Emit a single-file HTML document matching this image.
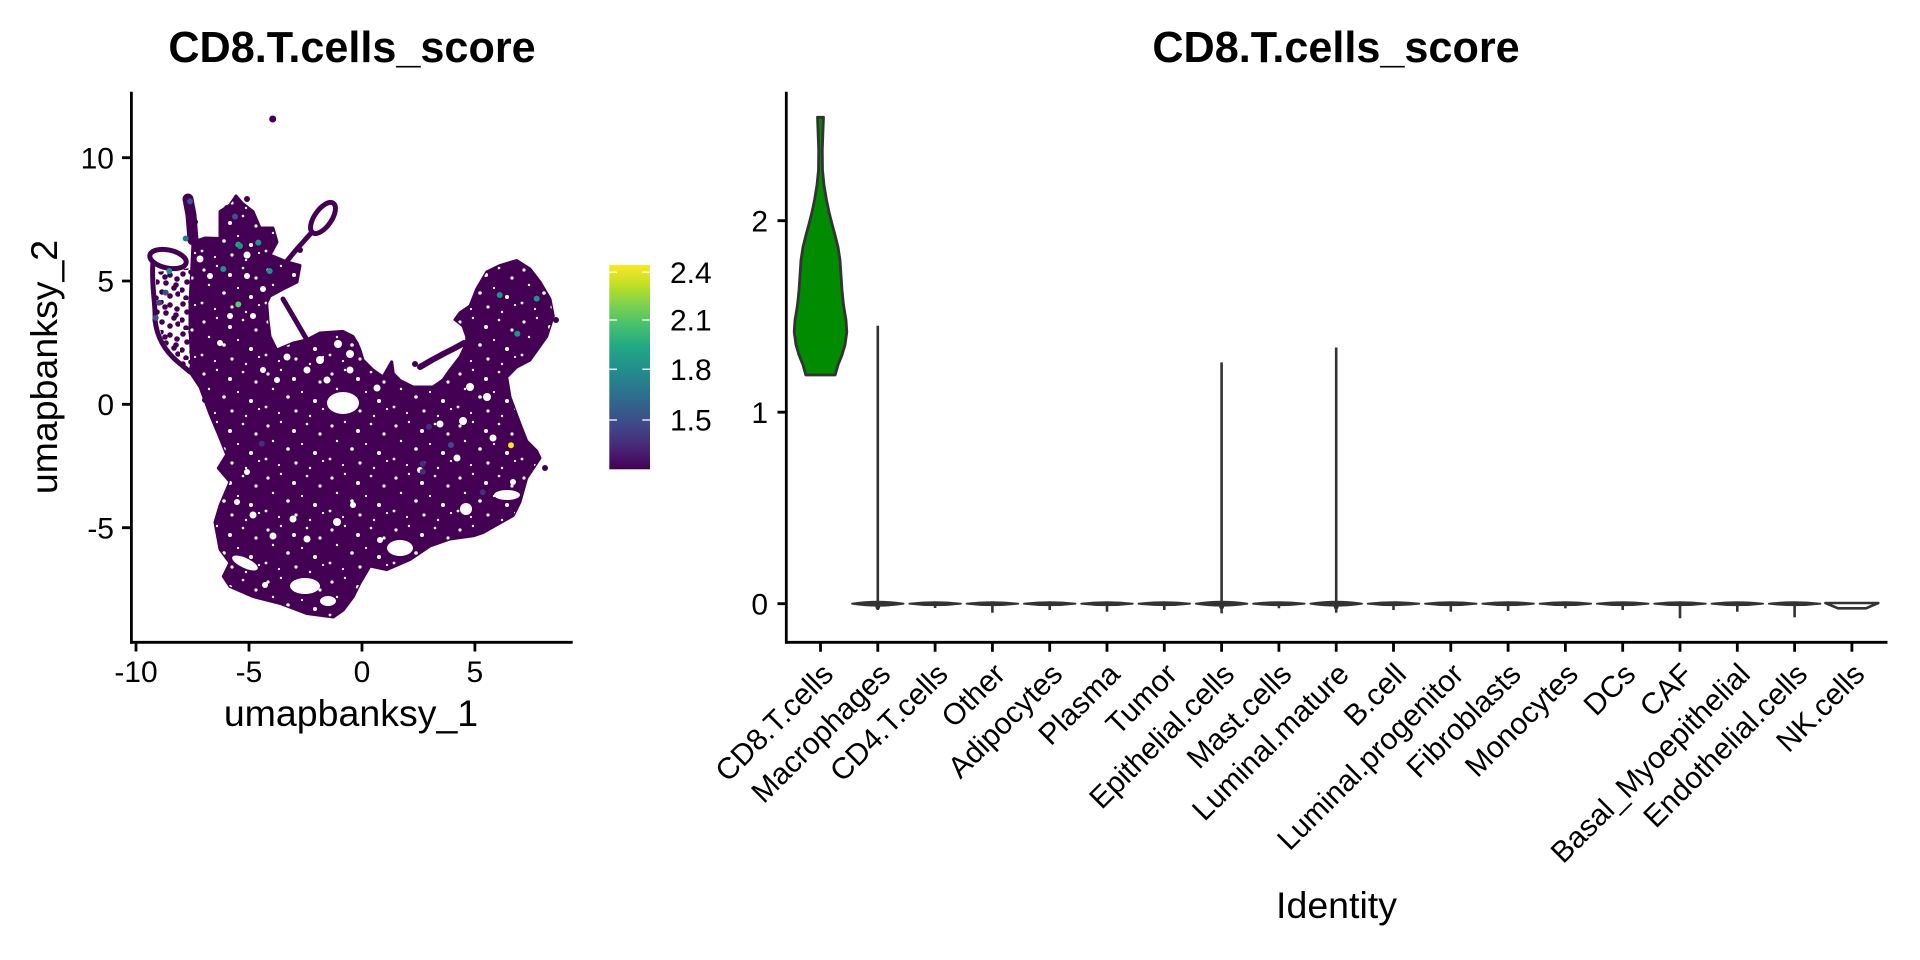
<!DOCTYPE html>
<html>
<head>
<meta charset="utf-8">
<style>
html,body{margin:0;padding:0;background:#fff;}
svg{display:block;}
text{font-family:"Liberation Sans",Arial,Helvetica,sans-serif;fill:#000;}
</style>
</head>
<body>
<svg width="1920" height="960" viewBox="0 0 1920 960" xmlns="http://www.w3.org/2000/svg">
<defs>
<linearGradient id="vir" x1="0" y1="1" x2="0" y2="0">
<stop offset="0" stop-color="#440154"/>
<stop offset="0.1" stop-color="#482475"/>
<stop offset="0.2" stop-color="#414487"/>
<stop offset="0.3" stop-color="#355f8d"/>
<stop offset="0.4" stop-color="#2a788e"/>
<stop offset="0.5" stop-color="#21918c"/>
<stop offset="0.6" stop-color="#22a884"/>
<stop offset="0.7" stop-color="#44bf70"/>
<stop offset="0.8" stop-color="#7ad151"/>
<stop offset="0.9" stop-color="#bddf26"/>
<stop offset="1" stop-color="#fde725"/>
</linearGradient>
<pattern id="speck" x="7" y="3" width="64" height="52" patternUnits="userSpaceOnUse">
<g fill="#fff">
<circle cx="5" cy="7" r="1.6"/><circle cx="18" cy="3" r="1.2"/><circle cx="31" cy="12" r="2"/>
<circle cx="44" cy="5" r="1.3"/><circle cx="57" cy="15" r="1.6"/><circle cx="10" cy="22" r="1.2"/>
<circle cx="25" cy="30" r="1.8"/><circle cx="39" cy="25" r="1.1"/><circle cx="52" cy="34" r="2"/>
<circle cx="3" cy="40" r="1.4"/><circle cx="16" cy="46" r="1.1"/><circle cx="33" cy="44" r="1.6"/>
<circle cx="47" cy="49" r="1.2"/><circle cx="60" cy="42" r="1.1"/>
</g>
</pattern>
<pattern id="sparse" x="0" y="0" width="30" height="30" patternUnits="userSpaceOnUse">
<g fill="#440154">
<circle cx="3" cy="4" r="2.8"/><circle cx="11" cy="2" r="2.8"/><circle cx="20" cy="5" r="2.8"/>
<circle cx="27" cy="9" r="2.8"/><circle cx="7" cy="12" r="2.8"/><circle cx="16" cy="13" r="2.8"/>
<circle cx="24" cy="18" r="2.8"/><circle cx="2" cy="20" r="2.8"/><circle cx="12" cy="22" r="2.8"/>
<circle cx="20" cy="26" r="2.8"/><circle cx="28" cy="24" r="2.8"/><circle cx="6" cy="28" r="2.8"/>
<circle cx="15" cy="7" r="2.8"/><circle cx="26" cy="15" r="2.8"/>
</g>
</pattern>
</defs>

<!-- ============ LEFT PANEL (UMAP) ============ -->
<text x="352" y="62" font-size="43.2" font-weight="bold" text-anchor="middle">CD8.T.cells_score</text>

<!-- sparse left zone -->
<path fill="url(#sparse)" d="M156,272 L191,268 L192,372 L178,362 L163,340 L156,315 Z"/>

<!-- point cloud -->
<path fill="#440154" stroke="#440154" stroke-width="3" stroke-linejoin="round" d="M193,242 L205,238 L220,238.5 L220,211.5 L230,205 L236,196 L242,203 L253,211.5 L260,228 L273,228 L277,242 L270,255 L287,262 L300,265.5 L297,282 L283,289 L270,296 L266.7,303 L268,320 L270,336.5 L276.7,350 L293.3,343 L306.7,340 L320,333 L343,331.4 L353,336.5 L357,343 L360,350 L363,360 L373,370 L383,377 L387,370 L391.7,361.8 L393.3,373.6 L400,380.4 L413,387 L433,387 L443,380 L450,370 L460,357 L466.7,343 L466.7,336.5 L463,326 L455,319.6 L460,312.8 L470,306 L476.7,289 L486.7,272 L500,265.5 L516.7,260.5 L530,269 L540,282 L550,299 L553.3,316 L546.7,336.5 L530,360 L516.7,367 L506.7,377 L510,397 L520,424 L526.7,441 L536.7,451 L540,458 L526.7,478 L520,502 L513.3,515.5 L483.3,532.4 L473.3,535.8 L450,539 L430,546 L410,559.5 L386.7,569.6 L370,566 L360,583 L353.3,596.6 L343.3,610 L333.3,617 L306.7,613.5 L280,603.4 L253.3,596.6 L230,586.5 L223.3,576.4 L230,562.8 L220,549.3 L215,522.3 L220,505.4 L230,481.8 L218.3,468.2 L226.7,454.7 L220,437.8 L210,414 L200,387 L190,372 L191.7,363.5 L190,330 L190,302.7 L191.7,270 Z"/>
<path fill="url(#speck)" d="M193,242 L205,238 L220,238.5 L220,211.5 L230,205 L236,196 L242,203 L253,211.5 L260,228 L273,228 L277,242 L270,255 L287,262 L300,265.5 L297,282 L283,289 L270,296 L266.7,303 L268,320 L270,336.5 L276.7,350 L293.3,343 L306.7,340 L320,333 L343,331.4 L353,336.5 L357,343 L360,350 L363,360 L373,370 L383,377 L387,370 L391.7,361.8 L393.3,373.6 L400,380.4 L413,387 L433,387 L443,380 L450,370 L460,357 L466.7,343 L466.7,336.5 L463,326 L455,319.6 L460,312.8 L470,306 L476.7,289 L486.7,272 L500,265.5 L516.7,260.5 L530,269 L540,282 L550,299 L553.3,316 L546.7,336.5 L530,360 L516.7,367 L506.7,377 L510,397 L520,424 L526.7,441 L536.7,451 L540,458 L526.7,478 L520,502 L513.3,515.5 L483.3,532.4 L473.3,535.8 L450,539 L430,546 L410,559.5 L386.7,569.6 L370,566 L360,583 L353.3,596.6 L343.3,610 L333.3,617 L306.7,613.5 L280,603.4 L253.3,596.6 L230,586.5 L223.3,576.4 L230,562.8 L220,549.3 L215,522.3 L220,505.4 L230,481.8 L218.3,468.2 L226.7,454.7 L220,437.8 L210,414 L200,387 L190,372 L191.7,363.5 L190,330 L190,302.7 L191.7,270 Z"/>

<g fill="none" stroke="#440154" stroke-linecap="round" stroke-linejoin="round">
<path stroke-width="11" d="M188,199 L191,215 L193,240"/>
<ellipse cx="168" cy="259" rx="18.5" ry="9" transform="rotate(12 168 259)" stroke-width="5"/>
<path stroke-width="5" d="M153,262 C151,285 156,305 155,320 C157,338 166,352 178,362 L190,372"/>
<path stroke-width="5" d="M287,261 L296,250 L304,241 L312,232"/>
<ellipse cx="323" cy="218" rx="18" ry="8.5" transform="rotate(-55 323 218)" stroke-width="5"/>
<path stroke-width="5" d="M283,299 L293,316 L300,328 L307,340"/>
<path stroke-width="6" d="M420,367 L432,360 L445,353 L455,348 L464,343"/>
</g>
<g fill="#440154">
<circle cx="272.7" cy="119" r="3.5"/>
<circle cx="195" cy="222" r="3"/><circle cx="247" cy="199" r="3"/><circle cx="227" cy="208" r="3"/>
<circle cx="300" cy="250" r="3"/><circle cx="415" cy="364" r="3"/><circle cx="212" cy="392" r="3"/>
<circle cx="545" cy="468" r="3"/><circle cx="205" cy="400" r="3"/><circle cx="556" cy="320" r="3"/>
</g>
<!-- holes -->
<g fill="#ffffff">
<ellipse cx="343" cy="403" rx="16" ry="11"/>
<ellipse cx="400" cy="548" rx="13" ry="8"/>
<ellipse cx="507" cy="495" rx="13" ry="5"/>
<circle cx="466" cy="509" r="6"/>
<ellipse cx="305" cy="586" rx="15" ry="8"/>
<ellipse cx="328" cy="601" rx="8" ry="5"/>
<ellipse cx="245" cy="563" rx="14" ry="5" transform="rotate(25 245 563)"/>
<circle cx="338" cy="344" r="4"/><circle cx="350" cy="354" r="4"/><circle cx="320" cy="360" r="4"/>
<circle cx="350" cy="370" r="3.5"/><circle cx="327" cy="380" r="3.5"/><circle cx="307" cy="370" r="3.5"/>
<circle cx="287" cy="357" r="3.5"/><circle cx="263" cy="370" r="3"/><circle cx="277" cy="380" r="3"/>
<circle cx="470" cy="387" r="4"/><circle cx="487" cy="397" r="4"/><circle cx="463" cy="421" r="4"/>
<circle cx="493" cy="438" r="3.5"/><circle cx="440" cy="424" r="3.5"/><circle cx="457" cy="458" r="3.5"/>
<circle cx="513" cy="482" r="3"/><circle cx="253" cy="515" r="3.5"/><circle cx="293" cy="519" r="3.5"/>
<circle cx="337" cy="522" r="4"/><circle cx="307" cy="539" r="3.5"/><circle cx="273" cy="536" r="3.5"/>
<circle cx="237" cy="502" r="3"/><circle cx="247" cy="472" r="3"/><circle cx="353" cy="505" r="3"/>
<circle cx="200" cy="259" r="3.5"/><circle cx="210" cy="276" r="3"/><circle cx="247" cy="255" r="3.5"/>
<circle cx="247" cy="276" r="3"/><circle cx="230" cy="316" r="3"/><circle cx="263" cy="289" r="3"/>
<circle cx="253" cy="316" r="3"/><circle cx="220" cy="343" r="3"/><circle cx="377" cy="388" r="3.5"/>
<circle cx="420" cy="470" r="3"/><circle cx="380" cy="540" r="3"/><circle cx="265" cy="585" r="3"/>
</g>
<!-- colored points -->
<g>
<circle cx="190" cy="201.4" r="3" fill="#3b528b"/>
<circle cx="235" cy="216.6" r="3" fill="#3b528b"/>
<circle cx="185.7" cy="238.5" r="3" fill="#2a788e"/>
<circle cx="238.3" cy="244.6" r="3" fill="#22a884"/>
<circle cx="240" cy="246" r="3" fill="#21918c"/>
<circle cx="258.3" cy="242.6" r="3" fill="#21918c"/>
<circle cx="169.3" cy="271" r="3" fill="#21918c"/>
<circle cx="223.3" cy="269" r="3" fill="#21918c"/>
<circle cx="269.7" cy="271" r="3" fill="#21918c"/>
<circle cx="165.7" cy="292.6" r="3" fill="#3b528b"/>
<circle cx="159" cy="302.7" r="3" fill="#414487"/>
<circle cx="155.7" cy="317.9" r="3" fill="#3b528b"/>
<circle cx="238.3" cy="304.4" r="3" fill="#5ec962"/>
<circle cx="499.7" cy="295" r="3" fill="#21918c"/>
<circle cx="536.7" cy="298.6" r="3" fill="#21918c"/>
<circle cx="517.3" cy="333.8" r="3" fill="#21918c"/>
<circle cx="511" cy="445.3" r="3" fill="#fde725"/>
<circle cx="429" cy="426.7" r="3" fill="#472d7b"/>
<circle cx="451" cy="445" r="3" fill="#3e4a89"/>
<circle cx="422.7" cy="463.9" r="3" fill="#472d7b"/>
<circle cx="422.7" cy="471.6" r="3" fill="#472d7b"/>
<circle cx="261.7" cy="443.6" r="3" fill="#472d7b"/>
<circle cx="482.7" cy="492.2" r="3" fill="#472d7b"/>
</g>

<!-- axes left -->
<g stroke="#000" stroke-width="2.8" fill="none">
<path d="M131.4,91.7 V643.7"/>
<path d="M130,642.3 H572.7"/>
<path d="M122,157.7 H131 M122,281 H131 M122,404.3 H131 M122,527.7 H131"/>
<path d="M136,642 V651.5 M249,642 V651.5 M362,642 V651.5 M474.9,642 V651.5"/>
</g>
<g font-size="30">
<text x="114" y="168.4" text-anchor="end">10</text>
<text x="114" y="291.7" text-anchor="end">5</text>
<text x="114" y="415" text-anchor="end">0</text>
<text x="114" y="538.4" text-anchor="end">-5</text>
<text x="136" y="682" text-anchor="middle">-10</text>
<text x="249" y="682" text-anchor="middle">-5</text>
<text x="362" y="682" text-anchor="middle">0</text>
<text x="474.9" y="682" text-anchor="middle">5</text>
</g>
<text x="351" y="726" font-size="37.5" text-anchor="middle">umapbanksy_1</text>
<text transform="translate(57 367) rotate(-90)" font-size="37.5" text-anchor="middle">umapbanksy_2</text>

<!-- colorbar -->
<rect x="609.3" y="265" width="40.7" height="204.3" fill="url(#vir)"/>
<g stroke="#ffffff" stroke-opacity="0.85" stroke-width="1.5">
<path d="M609.3,272.3 H617 M642.3,272.3 H650"/>
<path d="M609.3,320 H617 M642.3,320 H650"/>
<path d="M609.3,369.3 H617 M642.3,369.3 H650"/>
<path d="M609.3,420 H617 M642.3,420 H650"/>
</g>
<g font-size="30">
<text x="670" y="283">2.4</text>
<text x="670" y="330.7">2.1</text>
<text x="670" y="380">1.8</text>
<text x="670" y="430.7">1.5</text>
</g>

<!-- ============ RIGHT PANEL (VIOLIN) ============ -->
<text x="1336" y="62" font-size="43.2" font-weight="bold" text-anchor="middle">CD8.T.cells_score</text>

<!-- CD8 violin -->
<path fill="#008b00" stroke="#333333" stroke-width="2.8" stroke-linejoin="round" d="M817.5,117.3 L823.5,117.3 L823,130 L822.3,150 L822.5,170 L824,185 L826.5,200 L829,212 L831.5,222 L835,235 L838,247 L840,260 L841,275 L842,290 L843.5,305 L846,320 L846.8,332 L845,345 L842,355 L838,365 L835.2,375 L805.8,375 L803,365 L799,355 L796,345 L794.2,332 L795,320 L797.5,305 L799,290 L800,275 L801,260 L803,247 L806,235 L809.5,222 L812,212 L814.5,200 L817,185 L818.5,170 L818.7,150 L818,130 Z"/>

<!-- tall thin violins -->
<g stroke="#333333" stroke-width="2.6" fill="none">
<path d="M877.8,325.7 V606"/>
<path d="M1221.6,362.4 V606"/>
<path d="M1336.2,347.5 V606"/>
</g>

<!-- flat violins at zero -->
<g fill="#333333" stroke="#333333" stroke-width="1.8" stroke-linejoin="round">
<path d="M852,603.7 Q877.8,599.6 903.6,603.7 Q877.8,607.8 852,603.7 Z"/>
<path d="M909.3,603.7 Q935.1,600.6 960.9,603.7 Q935.1,606.8 909.3,603.7 Z"/>
<path d="M966.6,603.7 Q992.4,600.6 1018.2,603.7 Q992.4,606.8 966.6,603.7 Z"/>
<path d="M1023.9,603.7 Q1049.7,600.6 1075.5,603.7 Q1049.7,606.8 1023.9,603.7 Z"/>
<path d="M1081.2,603.7 Q1107,600.6 1132.8,603.7 Q1107,606.8 1081.2,603.7 Z"/>
<path d="M1138.5,603.7 Q1164.3,600.6 1190.1,603.7 Q1164.3,606.8 1138.5,603.7 Z"/>
<path d="M1195.8,603.7 Q1221.6,599.6 1247.4,603.7 Q1221.6,607.8 1195.8,603.7 Z"/>
<path d="M1253.1,603.7 Q1278.9,600.6 1304.7,603.7 Q1278.9,606.8 1253.1,603.7 Z"/>
<path d="M1310.4,603.7 Q1336.2,599.6 1362,603.7 Q1336.2,607.8 1310.4,603.7 Z"/>
<path d="M1367.7,603.7 Q1393.5,600.6 1419.3,603.7 Q1393.5,606.8 1367.7,603.7 Z"/>
<path d="M1425,603.7 Q1450.8,600.6 1476.6,603.7 Q1450.8,606.8 1425,603.7 Z"/>
<path d="M1482.3,603.7 Q1508.1,600.6 1533.9,603.7 Q1508.1,606.8 1482.3,603.7 Z"/>
<path d="M1539.6,603.7 Q1565.4,600.6 1591.2,603.7 Q1565.4,606.8 1539.6,603.7 Z"/>
<path d="M1596.9,603.7 Q1622.7,600.6 1648.5,603.7 Q1622.7,606.8 1596.9,603.7 Z"/>
<path d="M1654.2,603.7 Q1680,600.6 1705.8,603.7 Q1680,606.8 1654.2,603.7 Z"/>
<path d="M1711.5,603.7 Q1737.3,600.6 1763.1,603.7 Q1737.3,606.8 1711.5,603.7 Z"/>
<path d="M1768.8,603.7 Q1794.6,600.6 1820.4,603.7 Q1794.6,606.8 1768.8,603.7 Z"/>
</g>
<!-- stubs -->
<g stroke="#333333" stroke-width="2.6" fill="none">
<path d="M877.8,604 V610"/>
<path d="M935.1,604 V608"/>
<path d="M992.4,604 V612.7"/>
<path d="M1049.7,604 V610"/>
<path d="M1107,604 V611.7"/>
<path d="M1164.3,604 V610"/>
<path d="M1221.6,604 V613.3"/>
<path d="M1278.9,604 V608.3"/>
<path d="M1336.2,604 V612.7"/>
<path d="M1393.5,604 V610"/>
<path d="M1450.8,604 V611.7"/>
<path d="M1508.1,604 V611"/>
<path d="M1565.4,604 V608.3"/>
<path d="M1622.7,604 V610"/>
<path d="M1680,604 V618.3"/>
<path d="M1737.3,604 V611.7"/>
<path d="M1794.6,604 V617.3"/>
</g>
<g fill="#333333">
<circle cx="877.8" cy="607" r="2.4"/>
<circle cx="1221.6" cy="607" r="2.4"/>
<circle cx="1336.2" cy="607" r="2.4"/>
</g>
<!-- NK.cells -->
<path d="M1825.4,603 L1878.3,603 L1866,608.3 L1838,608.3 Z" fill="#ffffff" stroke="#333333" stroke-width="2.6" stroke-linejoin="round"/>

<!-- axes right -->
<g stroke="#000" stroke-width="2.8" fill="none">
<path d="M786.3,91.7 V643.7"/>
<path d="M785,642.3 H1887.5"/>
<path d="M777.5,603.7 H786 M777.5,412.2 H786 M777.5,220.7 H786"/>
<path d="M820.5,642 V651.7 M877.8,642 V651.7 M935.1,642 V651.7 M992.4,642 V651.7 M1049.7,642 V651.7 M1107,642 V651.7 M1164.3,642 V651.7 M1221.6,642 V651.7 M1278.9,642 V651.7 M1336.2,642 V651.7 M1393.5,642 V651.7 M1450.8,642 V651.7 M1508.1,642 V651.7 M1565.4,642 V651.7 M1622.7,642 V651.7 M1680,642 V651.7 M1737.3,642 V651.7 M1794.6,642 V651.7 M1851.9,642 V651.7"/>
</g>
<g font-size="30">
<text x="768" y="614.4" text-anchor="end">0</text>
<text x="768" y="422.9" text-anchor="end">1</text>
<text x="768" y="231.4" text-anchor="end">2</text>
</g>
<g font-size="30" text-anchor="end">
<text transform="translate(835 676) rotate(-45)">CD8.T.cells</text>
<text transform="translate(892.3 676) rotate(-45)">Macrophages</text>
<text transform="translate(949.6 676) rotate(-45)">CD4.T.cells</text>
<text transform="translate(1006.9 676) rotate(-45)">Other</text>
<text transform="translate(1064.2 676) rotate(-45)">Adipocytes</text>
<text transform="translate(1121.5 676) rotate(-45)">Plasma</text>
<text transform="translate(1178.8 676) rotate(-45)">Tumor</text>
<text transform="translate(1236.1 676) rotate(-45)">Epithelial.cells</text>
<text transform="translate(1293.4 676) rotate(-45)">Mast.cells</text>
<text transform="translate(1350.7 676) rotate(-45)">Luminal.mature</text>
<text transform="translate(1408 676) rotate(-45)">B.cell</text>
<text transform="translate(1465.3 676) rotate(-45)">Luminal.progenitor</text>
<text transform="translate(1522.6 676) rotate(-45)">Fibroblasts</text>
<text transform="translate(1579.9 676) rotate(-45)">Monocytes</text>
<text transform="translate(1637.2 676) rotate(-45)">DCs</text>
<text transform="translate(1694.5 676) rotate(-45)">CAF</text>
<text transform="translate(1751.8 676) rotate(-45)">Basal_Myoepithelial</text>
<text transform="translate(1809.1 676) rotate(-45)">Endothelial.cells</text>
<text transform="translate(1866.4 676) rotate(-45)">NK.cells</text>
</g>
<text x="1336.5" y="918" font-size="37.5" text-anchor="middle">Identity</text>
</svg>
</body>
</html>
